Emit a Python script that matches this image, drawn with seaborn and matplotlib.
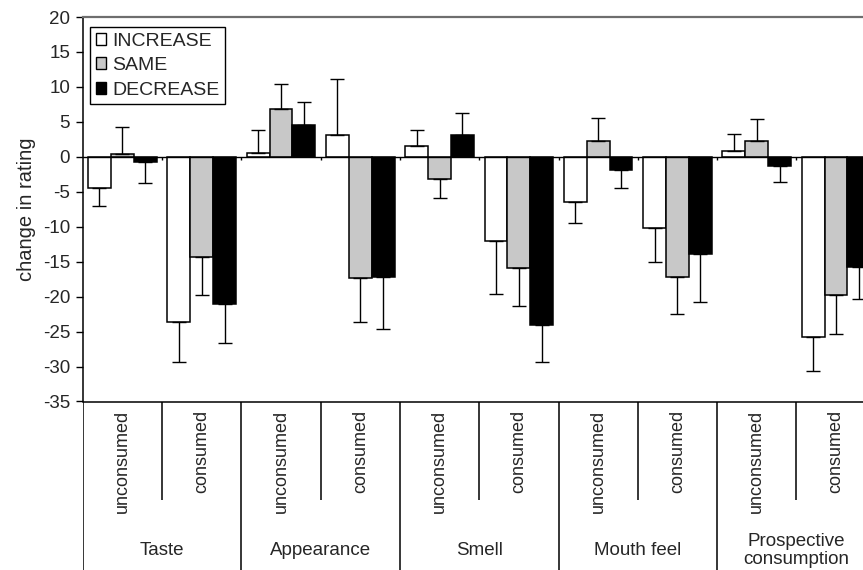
import numpy as np
import pandas as pd
import matplotlib
matplotlib.use("Agg")
import matplotlib.pyplot as plt
import seaborn as sns

# ---------------- data ----------------
attributes = ["Taste", "Appearance", "Smell", "Mouth feel", "Prospective\nconsumption"]
conditions = ["unconsumed", "consumed"]
series_names = ["INCREASE", "SAME", "DECREASE"]

increase = [-4.5, -23.6, 0.6, 3.1, 1.6, -12.0, -6.5, -10.2, 0.8, -25.8]
same = [0.4, -14.4, 6.9, -17.3, -3.2, -15.9, 2.2, -17.2, 2.2, -19.8]
decrease = [-0.7, -21.1, 4.6, -17.2, 3.1, -24.0, -1.9, -13.9, -1.3, -15.8]

increase_err = [2.5, 5.7, 3.3, 8.0, 2.3, 7.6, 2.9, 4.9, 2.5, 4.9]
same_err = [3.8, 5.4, 3.5, 6.3, 2.7, 5.4, 3.4, 5.3, 3.2, 5.5]
decrease_err = [3.0, 5.5, 3.2, 7.4, 3.1, 5.4, 2.6, 6.8, 2.3, 4.6]

y_ticks = list(range(-35, 21, 5))

# ---------------- table ----------------
cells = [f"{a}|{c}" for a in attributes for c in conditions]
rows = []
for name, vals in zip(series_names, [increase, same, decrease]):
    for cell, v in zip(cells, vals):
        rows.append({"cell": cell, "series": name, "value": v})
df = pd.DataFrame(rows)

# ---------------- style ----------------
sns.set_style("white")
plt.rcParams["font.family"] = ["Liberation Sans", "DejaVu Sans"]
plt.rcParams["axes.unicode_minus"] = False

W, H = 863, 570
fig = plt.figure(figsize=(W / 100, H / 100), dpi=100)
left_px, right_px = 82.7, 82.7 + 10 * 79.3
top_px, bot_px = 17.0, 401.5
ax = fig.add_axes([left_px / W, 1 - bot_px / H, (right_px - left_px) / W, (bot_px - top_px) / H])

sns.barplot(data=df, x="cell", y="value", hue="series", hue_order=series_names,
            order=cells, palette=["white", "#c8c8c8", "black"], saturation=1,
            edgecolor="black", linewidth=1.1, width=0.865, errorbar=None, ax=ax)

# one-sided error bars
for cont, errs in zip(ax.containers, [increase_err, same_err, decrease_err]):
    for bar, e in zip(cont, errs):
        x = bar.get_x() + bar.get_width() / 2
        h = bar.get_height()
        yerr = [[0], [e]] if h >= 0 else [[e], [0]]
        ax.errorbar([x], [h], yerr=yerr, fmt="none", ecolor="black",
                    elinewidth=1.0, capsize=5, capthick=1.0, zorder=1)

ax.set_xlim(-0.5, len(cells) - 0.5)
ax.set_ylim(-35, 20)
ax.set_yticks(y_ticks)
ax.set_yticklabels([str(t) for t in y_ticks], fontsize=13.5)
ax.set_xticks([])
ax.set_xlabel("")
ax.set_ylabel("change in rating", fontsize=14.5, labelpad=5)
ax.tick_params(axis="y", which="both", left=True, length=5, width=1, direction="out", pad=4, color="black")

ax.axhline(0, color="black", lw=1.0, zorder=3)
bounds = np.arange(len(cells) + 1) - 0.5
ax.vlines(bounds[1:], -0.45, 0, color="black", lw=1.0, zorder=3)

for s in ["left", "bottom"]:
    ax.spines[s].set_color("black")
    ax.spines[s].set_linewidth(1.1)
ax.spines["top"].set_color("#6e6e6e")
ax.spines["top"].set_linewidth(1.6)
ax.spines["right"].set_visible(False)

handles, labels = ax.get_legend_handles_labels()
leg = ax.legend(handles, labels, loc="upper left", bbox_to_anchor=(0.009, 0.974),
                frameon=True, fancybox=False, edgecolor="black", framealpha=1,
                handlelength=0.55, handleheight=0.55, handletextpad=0.3,
                labelspacing=0.38, borderpad=0.3, borderaxespad=0, fontsize=14)
leg.get_frame().set_linewidth(1.0)
for hnd in leg.legend_handles:
    hnd.set_edgecolor("black")
    hnd.set_linewidth(1.0)

# ---------------- hierarchical category axis ----------------
ax2 = fig.add_axes([left_px / W, 0, (right_px - left_px) / W, 1 - bot_px / H])
ax2.set_xlim(-0.5, len(cells) - 0.5)
ax2.set_ylim(0, 1)
ax2.axis("off")
for i, b in enumerate(bounds):
    if i % 2 == 0:
        ax2.vlines(b, 0, 1, color="black", lw=1.1)
    else:
        ax2.vlines(b, 0.415, 1, color="black", lw=1.1)
for i, cell in enumerate(cells):
    cond = cell.split("|")[1]
    ax2.text(i, 0.95, cond, rotation=90, ha="center", va="top", fontsize=13)
for j, a in enumerate(attributes):
    ax2.text(2 * j + 0.5, 0.116, a, ha="center", va="center", fontsize=13.5, linespacing=1.05)

fig.savefig("out.png", dpi=100)
